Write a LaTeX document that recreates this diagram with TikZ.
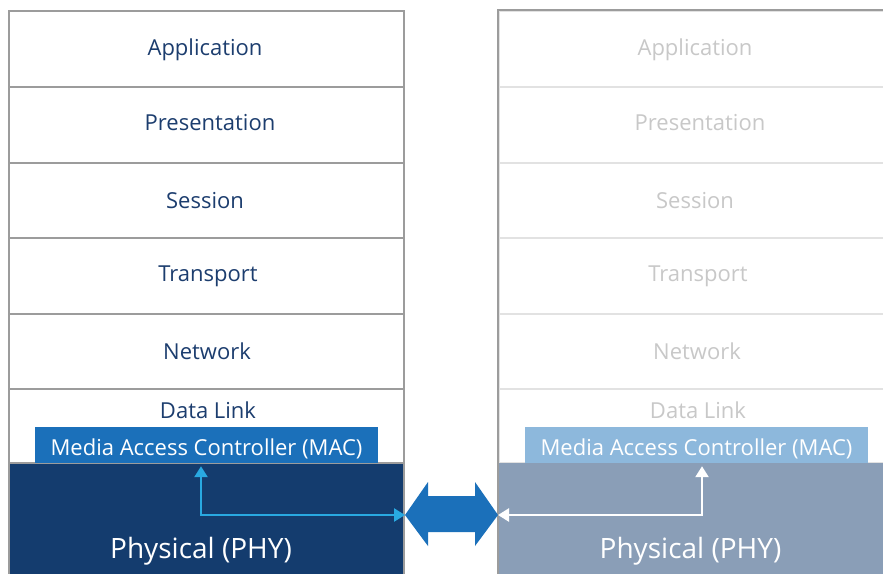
\documentclass[tikz,border=0pt]{standalone}
\usepackage{fontspec}
\setmainfont{Open Sans}
\usetikzlibrary{arrows.meta,calc}
\definecolor{gridgray}{HTML}{9C9C9C}
\definecolor{sepgray}{HTML}{E2E2E2}
\definecolor{labnavy}{HTML}{1C3D6E}
\definecolor{fadetext}{HTML}{C8C8C8}
\definecolor{physnavy}{HTML}{143C6E}
\definecolor{physgray}{HTML}{8A9EB7}
\definecolor{macblue}{HTML}{1B70BA}
\definecolor{maclight}{HTML}{8DB8DC}
\definecolor{cyanarr}{HTML}{29A9E1}
\begin{document}
\begin{tikzpicture}[x=1pt,y=-1pt,
  layerL/.style={draw=gridgray, line width=2pt, minimum width=395pt, inner sep=0pt},
  layerR/.style={draw=sepgray, line width=2pt, minimum width=395pt, inner sep=0pt},
  lab/.style={inner sep=0pt, yshift=-3pt, text height=16.7pt, text depth=5.3pt, font=\fontsize{22}{26}\selectfont},
  macbox/.style={minimum width=343pt, minimum height=36pt, inner sep=0pt},
  phylab/.style={inner sep=0pt, yshift=-3pt, text height=21.3pt, text depth=6.7pt, font=\fontsize{28}{32}\selectfont, text=white},
  linkarrow/.style={line width=2.5pt, {Triangle[width=13pt,length=11pt]}-{Triangle[width=13pt,length=11pt]}, shorten <=3pt}
]
\useasboundingbox (0,0) rectangle (883,573);
\clip (0,0) rectangle (883,573);
\fill[white] (0,0) rectangle (883,573);

% left stack
\node[layerL, minimum height=76pt] (aL) at (206.5,49) {};
\node[layerL, minimum height=76pt] (prL) at (206.5,125) {};
\node[layerL, minimum height=75pt] (sL) at (206.5,200.5) {};
\node[layerL, minimum height=76pt] (tL) at (206.5,276) {};
\node[layerL, minimum height=75pt] (nL) at (206.5,351.5) {};
\node[layerL, minimum height=74pt] (dL) at (206.5,426) {};
\node[layerL, fill=physnavy, minimum height=137pt] (pL) at (206.5,531.5) {};
\node[lab, text=labnavy] (taL) at (205,47) {Application};
\node[lab, text=labnavy] (tprL) at (210,122) {Presentation};
\node[lab, text=labnavy] (tsL) at (205,200) {Session};
\node[lab, text=labnavy] (ttL) at (208,273) {Transport};
\node[lab, text=labnavy] (tnL) at (207,351) {Network};
\node[lab, text=labnavy] (dlL) at (208,410) {Data Link};
\node[macbox, fill=macblue] (macL) at (206.5,445) {};
\node[lab, text=white] (mtL) at (206.5,447) {Media Access Controller (MAC)};
\node[phylab] (phL) at (201,548) {Physical (PHY)};

% right stack
\node[layerR, minimum height=76pt] (aR) at (696.5,49) {};
\node[layerR, minimum height=76pt] (prR) at (696.5,125) {};
\node[layerR, minimum height=75pt] (sR) at (696.5,200.5) {};
\node[layerR, minimum height=76pt] (tR) at (696.5,276) {};
\node[layerR, minimum height=75pt] (nR) at (696.5,351.5) {};
\node[layerR, minimum height=74pt] (dR) at (696.5,426) {};
\node[layerR, draw=none, fill=physgray, minimum height=137pt] (pR) at (696.5,531.5) {};
\draw[gridgray, line width=2pt] (aR.north east) -- (aR.north west) -- (pR.south west);
\node[lab, text=fadetext] (taR) at (695,47) {Application};
\node[lab, text=fadetext] (tprR) at (700,122) {Presentation};
\node[lab, text=fadetext] (tsR) at (695,200) {Session};
\node[lab, text=fadetext] (ttR) at (698,273) {Transport};
\node[lab, text=fadetext] (tnR) at (697,351) {Network};
\node[lab, text=fadetext] (dlR) at (698,410) {Data Link};
\node[macbox, fill=maclight] (macR) at (696.5,445) {};
\node[lab, text=white] (mtR) at (696.5,447) {Media Access Controller (MAC)};
\node[phylab] (phR) at (690.5,548) {Physical (PHY)};

% link arrows
\coordinate (cL) at (201,515);
\coordinate (cR) at (702,515);
\draw[linkarrow, cyanarr] (macL.south -| cL) -- (cL) -- (pL.east |- cL);
\draw[linkarrow, white] (macR.south -| cR) -- (cR) -- (pR.west |- cR);

% big double arrow
\coordinate (mid) at ($(pL.east |- cL)!0.5!(pR.west |- cL)$);
\fill[macblue] ($(mid)+(-46.5,0)$) -- ++(23,-33) -- ++(0,14) -- ++(47,0) -- ++(0,-14)
  -- ($(mid)+(46.5,0)$) -- ++(-23,31) -- ++(0,-14) -- ++(-47,0) -- ++(0,14) -- cycle;
\end{tikzpicture}
\end{document}
